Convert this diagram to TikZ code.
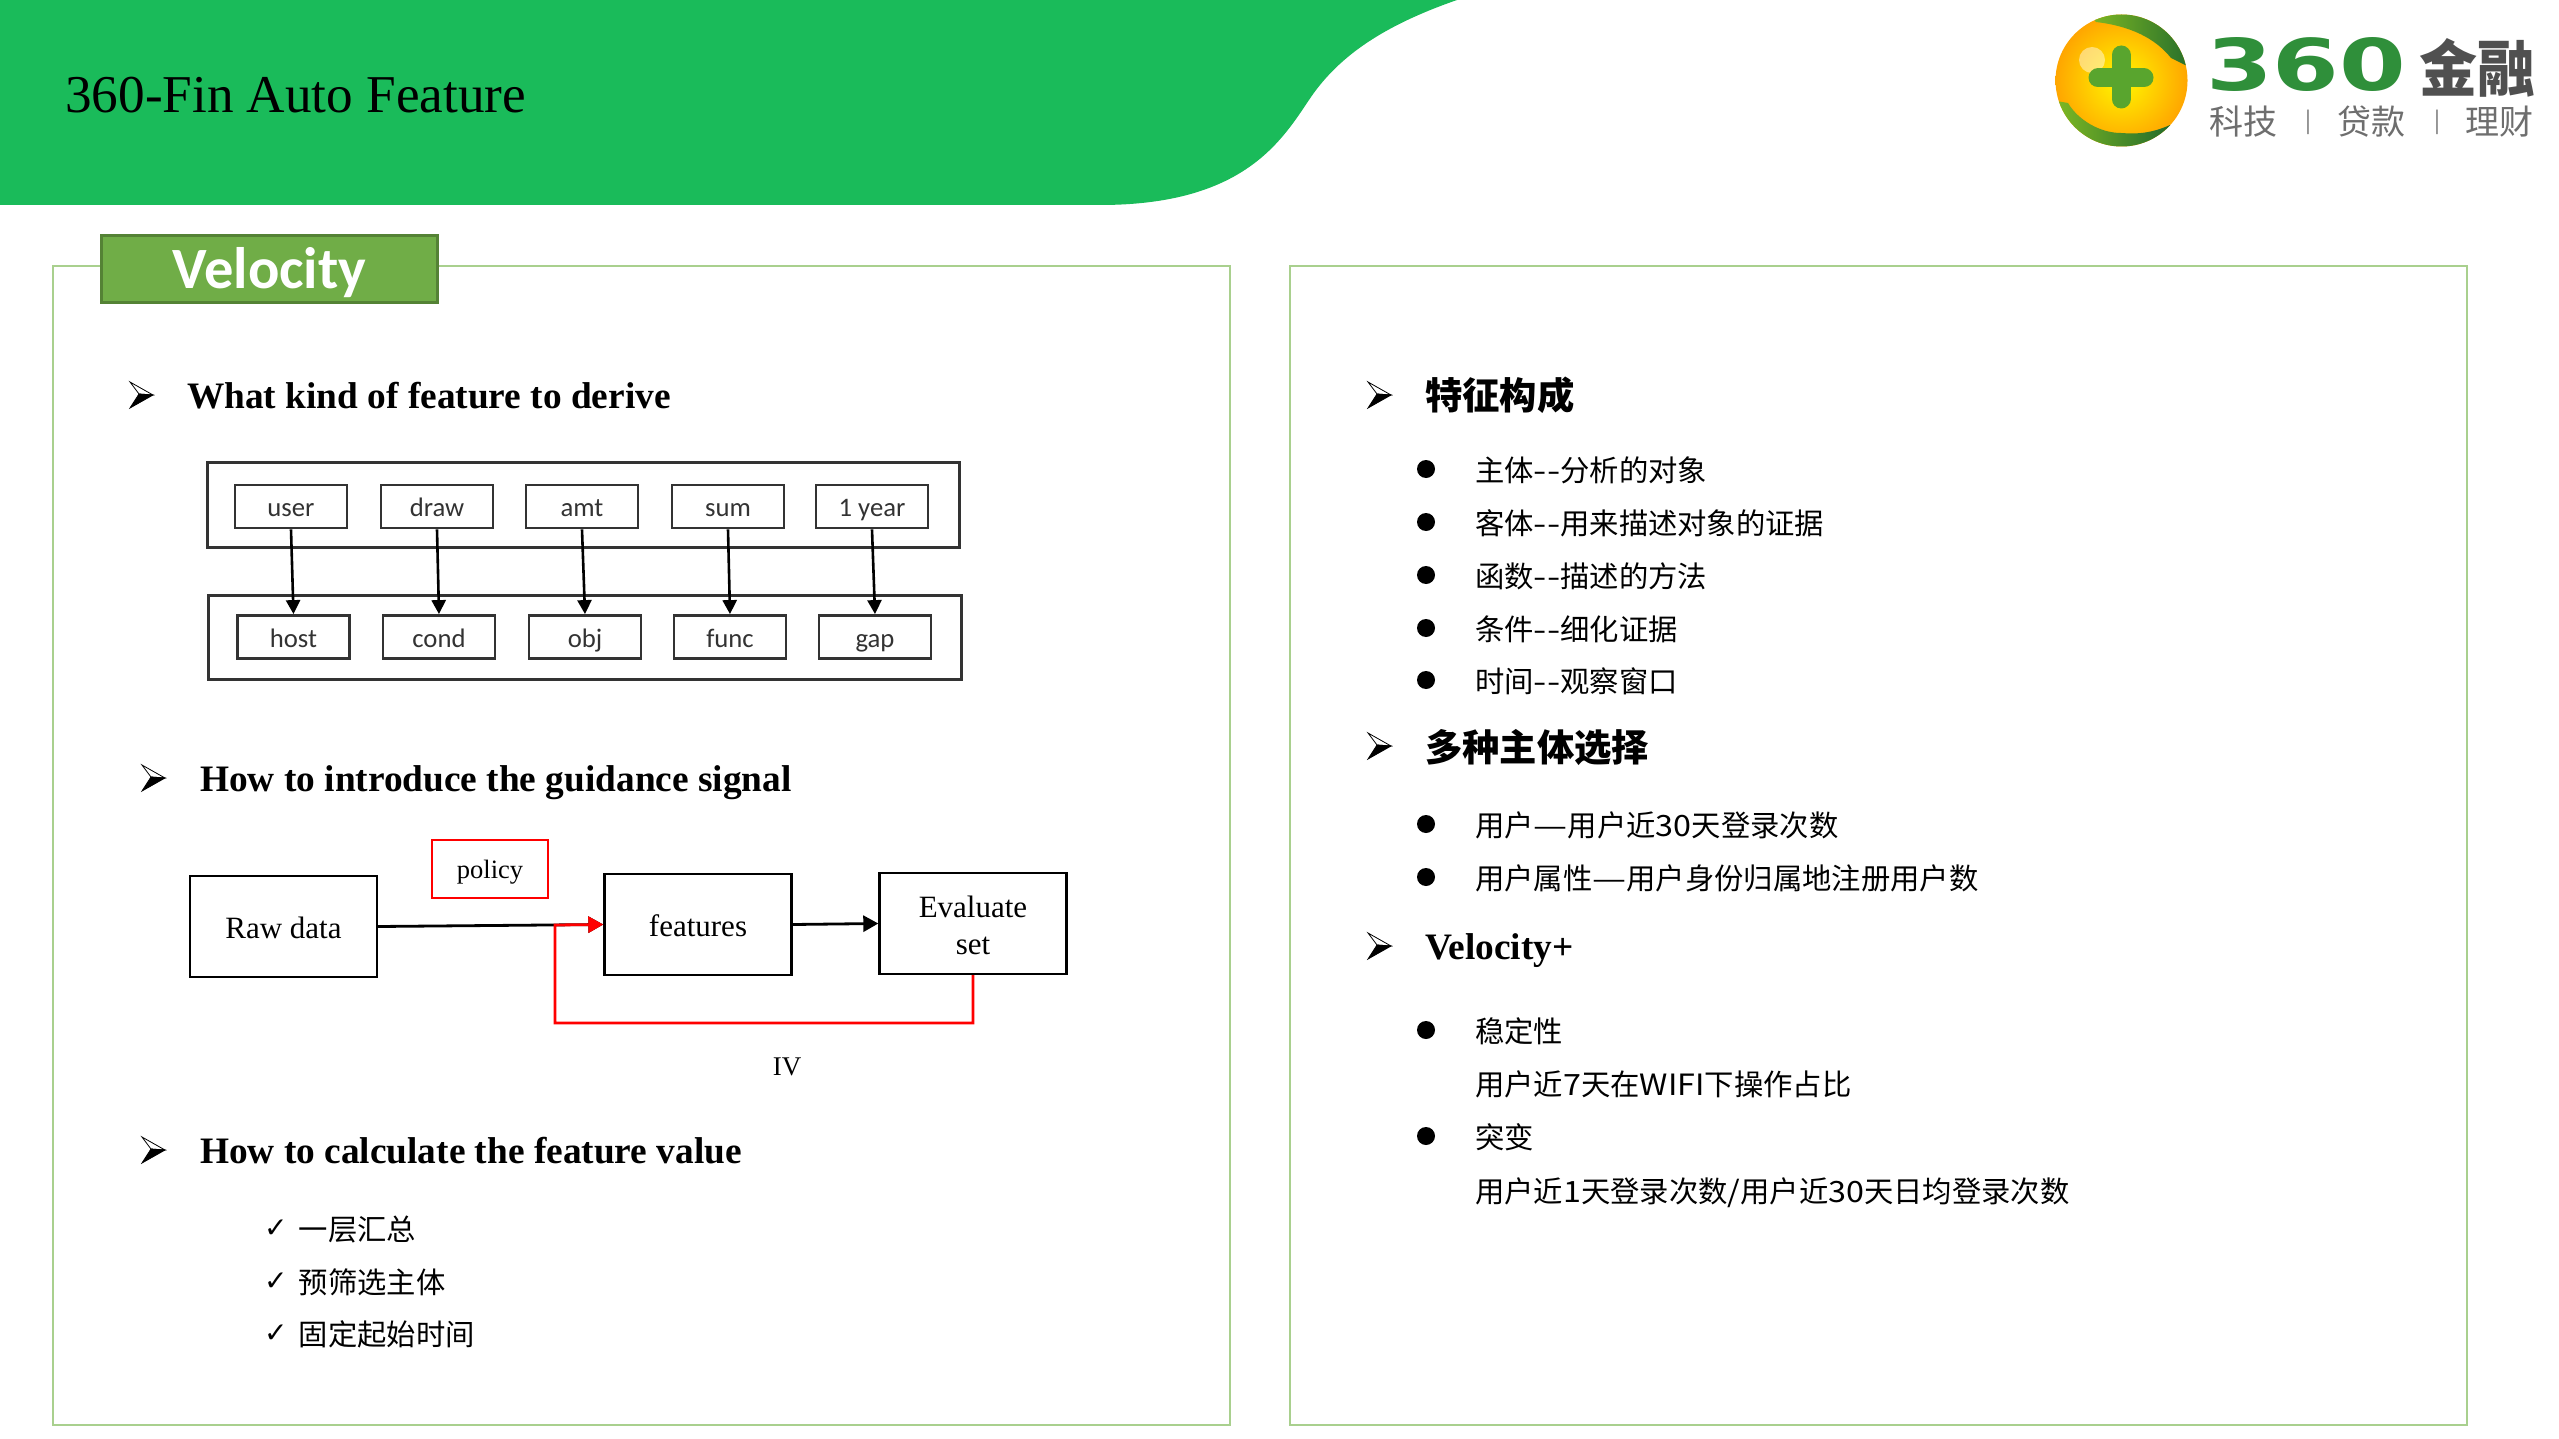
\documentclass[tikz,border=0pt]{standalone}
\usepackage{fontspec}
\usepackage{graphicx}
\setmainfont{Liberation Serif}
\newfontfamily\cjk{Noto Sans CJK SC}
\newfontfamily\dejavu{DejaVu Sans}
\newfontfamily\carlito{Carlito}
\usetikzlibrary{arrows.meta,calc}
\definecolor{band}{HTML}{1ABB5A}
\definecolor{panelline}{HTML}{A9D08E}
\definecolor{tagfill}{HTML}{70AD47}
\definecolor{tagline}{HTML}{548235}
\definecolor{fig}{HTML}{333333}
\definecolor{logogreen}{HTML}{2F8F3A}
\definecolor{logodark}{HTML}{505050}
\definecolor{logogray}{HTML}{6E6E6E}
\newcommand{\fsz}[1]{\fontsize{#1}{#1}\selectfont}
\newcommand{\wdash}{\scalebox{1.3}[1]{—}}
\newcommand{\dhy}{\scalebox{1.3}[1]{-}\scalebox{1.3}[1]{-}}
\newcommand{\wnum}[1]{\scalebox{1.1}[1]{#1}}
\newcommand{\arrbullet}[2]{%
  \begin{scope}[shift={(#1,#2)}]
    \fill[white,draw=black,line width=0.8pt] (0,-13) -- (23,0) -- (9,-1) -- cycle;
    \fill[black,draw=black,line width=0.8pt] (0,13) -- (23,0) -- (9,-1) -- cycle;
  \end{scope}}
\tikzset{
  txt/.style={inner sep=0pt,anchor=base west},
  head/.style={txt,font=\fsz{37.33}\bfseries},
  body/.style={txt,font=\cjk\fsz{29.33}},
  headcjk/.style={txt,font=\cjk\bfseries\fsz{37.33}},
  chk/.style={inner sep=0pt,anchor=base west,font=\dejavu\bfseries\fsz{28}},
  dot/.style={fill=black},
  panel/.style={draw=panelline,line width=1.6pt,fill=white},
  outerbox/.style={draw=fig,line width=3pt,inner sep=0pt},
  smallbox/.style={draw=fig,line width=2.8pt,minimum width=112pt,minimum height=43pt,inner sep=0pt,font=\carlito\fsz{26.7},text=fig,text height=24pt,text depth=4pt},
  flowbox/.style={draw=black,line width=2.4pt,minimum width=187pt,minimum height=101pt,inner sep=0pt,font=\fsz{31},align=center,text height=23pt,text depth=0pt},
  figarrow/.style={draw=black,line width=2.6pt,-{Triangle[length=14pt,width=14pt]}},
  flowarrow/.style={line width=2.8pt,-{Triangle[length=15pt,width=16pt]}},
  logosub/.style={inner sep=0pt,text=logogray,font=\cjk\fsz{34}}
}
\begin{document}
\begin{tikzpicture}[x=1pt,y=-1pt]
\useasboundingbox (0,0) rectangle (2559,1439);
\fill[white] (0,0) rectangle (2559,1439);
% green header band
\fill[band] (0,0) -- (1457,0) .. controls (1385,25) and (1340,55) .. (1311,97)
  .. controls (1282,140) and (1245,205) .. (1100,205) -- (0,205) -- cycle;
\node[txt,font=\fsz{53.2}] (title) at (65,113) {360-Fin Auto Feature};
% logo
\begin{scope}
  \shade[inner color=yellow!95!orange,outer color=orange!70!yellow] (2121.5,80.5) circle (66);
  \clip (2121.5,80.5) circle (66);
  \fill[white,opacity=.45] (2092,60) circle (13);
  \shade[left color=logogreen!60!yellow,right color=logogreen!75!black]
     (2085,8) -- (2195,8) -- (2195,70) -- (2171,58) .. controls (2155,38) and (2130,26) .. (2096,22) -- cycle;
  \shade[left color=logogreen!60!yellow,right color=logogreen!75!black]
     (2050,100) -- (2068,103) .. controls (2078,120) and (2100,133) .. (2121,133) .. controls (2135,134) and (2150,134) .. (2170,125) -- (2170,155) -- (2050,155) -- cycle;
  \draw[line width=19pt,line cap=round,color=logogreen!80!yellow] (2121,55) -- (2121,99) (2098,78) -- (2144,78);
\end{scope}
\node[inner sep=0pt,anchor=north west,text=logogreen] (n360) at (2206,37) {\resizebox{200pt}{53pt}{\dejavu\bfseries 360}};
\node[inner sep=0pt,anchor=north west,text=logodark] (njr) at (2419,38) {\resizebox{116pt}{53pt}{\cjk\bfseries 金融}};
\node[logosub,anchor=center] (l1) at (2243,122) {科技};
\node[logosub,anchor=center,font=\cjk\fsz{22}] (l2) at (2308,122) {|};
\node[logosub,anchor=center] (l3) at (2371,122) {贷款};
\node[logosub,anchor=center,font=\cjk\fsz{22}] (l4) at (2437,122) {|};
\node[logosub,anchor=center] (l5) at (2499,122) {理财};
% panels
\draw[panel] (53,266) rectangle (1230,1425);
\draw[panel] (1290,266) rectangle (2467,1425);
\node[draw=tagline,fill=tagfill,line width=2.4pt,minimum width=336pt,minimum height=67pt,inner sep=0pt,text=white,font=\carlito\bfseries\fsz{58.5},text height=53pt,text depth=14pt] (tag) at (269.5,269) {Velocity};
% left panel
\arrbullet{130}{395}
\node[head] (h1) at (187,408) {What kind of feature to derive};
\node[outerbox,minimum width=752pt,minimum height=85pt] (topbox) at (583,504.5) {};
\node[outerbox,minimum width=753pt,minimum height=84pt] (botbox) at (584.5,637) {};
\foreach \n/\x/\t in {a/291/user,b/437/draw,c/582/amt,d/728/sum,e/872/1 year}
  \node[smallbox] (top\n) at (\x,506.5) {\t};
\foreach \n/\x/\t in {a/293.5/host,b/439/cond,c/585/obj,d/730/func,e/875/gap}
  \node[smallbox] (bot\n) at (\x,637) {\t};
\foreach \n in {a,b,c,d,e}
  \draw[figarrow] (top\n.south) -- (bot\n.north);
\arrbullet{142}{778}
\node[head] (h2) at (200,791) {How to introduce the guidance signal};
\node[flowbox] (raw) at (283.5,926.5) {Raw data};
\node[flowbox] (features) at (698,924.5) {features};
\node[flowbox,text height=,text depth=] (evalset) at (973,923.5) {\rule{0pt}{25pt}Evaluate\\[6pt]set};
\node[draw=red,line width=2.4pt,minimum width=116pt,minimum height=58pt,inner sep=0pt,font=\fsz{26.5},text height=19pt,text depth=0pt] (policy) at (490,869) {policy};
\coordinate (loopa) at (555,1023);
\coordinate (loopb) at (555,925);
\draw[flowarrow,draw=black] (raw.east) -- (features.west);
\draw[flowarrow,draw=black] (features.east) -- (evalset.west);
\draw[flowarrow,draw=red] (evalset.south) |- (loopa) -- (loopb) -- (features.west);
\node[inner sep=0pt,anchor=base,font=\fsz{27}] (iv) at (787,1075) {IV};
\arrbullet{142}{1150}
\node[head] (h3) at (200,1163) {How to calculate the feature value};
\foreach \n/\y/\t in {a/1240/一层汇总,b/1293/预筛选主体,c/1345/固定起始时间}{
  \node[chk] (chk\n) at (264,\y-3) {✓};
  \node[body] (item\n) at (298.5,\y) {\t};
}
% right panel
\arrbullet{1368}{395}
\node[headcjk] (r1) at (1425,409) {特征构成};
\foreach \n/\y/\t in {a/469/主体\dhy 分析的对象,b/522/客体\dhy 用来描述对象的证据,c/575/函数\dhy 描述的方法,d/628/条件\dhy 细化证据,e/680/时间\dhy 观察窗口}{
  \fill[dot] (1426,\y) circle (9);
  \node[body] (ra\n) at (1475,\y+12) {\t};
}
\arrbullet{1368}{746}
\node[headcjk] (r2) at (1425,761) {多种主体选择};
\foreach \n/\y/\t in {a/824/用户\wdash 用户近\wnum{30}天登录次数,b/877/用户属性\wdash 用户身份归属地注册用户数}{
  \fill[dot] (1426,\y) circle (9);
  \node[body] (rb\n) at (1475,\y+12) {\t};
}
\arrbullet{1368}{946}
\node[txt,font=\fsz{37.33}\bfseries] (r3) at (1425,959) {Velocity+};
\fill[dot] (1426,1030) circle (9);
\node[body] (rc1) at (1475,1042) {稳定性};
\node[body] (rc2) at (1475,1095) {用户近\wnum{7}天在\wnum{WIFI}下操作占比};
\fill[dot] (1426,1136) circle (9);
\node[body] (rc3) at (1475,1148) {突变};
\node[body] (rc4) at (1475,1202) {用户近\wnum{1}天登录次数\wnum{/}用户近\wnum{30}天日均登录次数};
\end{tikzpicture}
\end{document}
